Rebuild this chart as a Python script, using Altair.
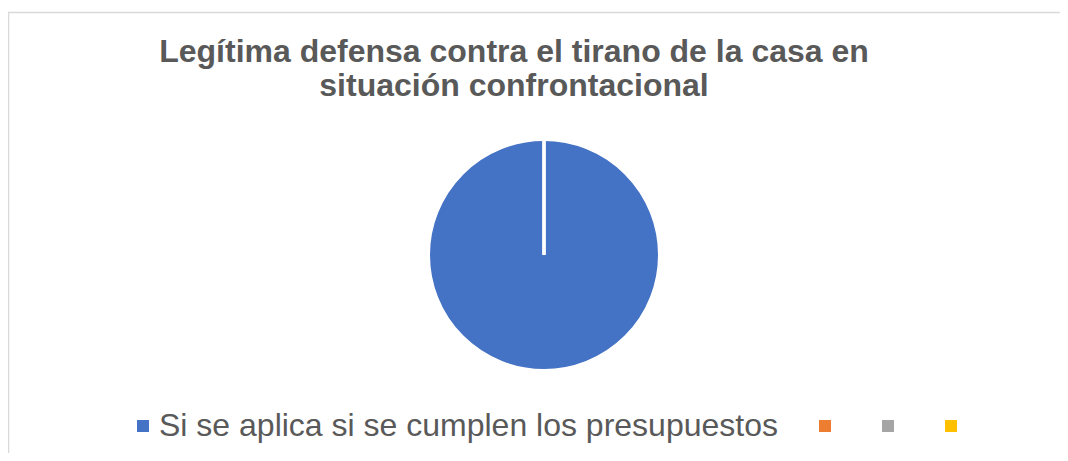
import altair as alt
import pandas as pd

categories = ["Si se aplica si se cumplen los presupuestos", "Serie 2", "Serie 3", "Serie 4"]
values = [100, 0, 0, 0]
colors = ["#4472C4", "#ED7D31", "#A5A5A5", "#FFC000"]
title_lines = ["Legítima defensa contra el tirano de la casa en", "situación confrontacional"]

W, H = 1052, 445

pie_df = pd.DataFrame({"cat": categories, "val": values, "order": list(range(len(categories)))})

pie = alt.Chart(pie_df).mark_arc(stroke="white", strokeWidth=3, outerRadius=115.5).encode(
    theta=alt.Theta("val:Q", stack=True),
    order=alt.Order("order:Q"),
    color=alt.Color(
        "cat:N",
        scale=alt.Scale(domain=categories, range=colors),
        legend=alt.Legend(
            title=None,
            orient="none",
            legendX=119,
            legendY=402,
            direction="horizontal",
            columns=4,
            columnPadding=31,
            symbolType="square",
            symbolSize=144,
            symbolStrokeWidth=0,
            labelFontSize=32,
            labelFont="Liberation Sans",
            labelColor="#595959",
            labelOffset=0,
            labelLimit=2000,
            padding=0,
            labelExpr="datum.index == 0 ? datum.label : ''",
        ),
    ),
    x=alt.value(536),
    y=alt.value(247),
)

title_df = pd.DataFrame({"t": title_lines, "yy": [54, 87.5]})
title = alt.Chart(title_df).mark_text(
    font="Liberation Sans", fontSize=32, fontWeight="bold", color="#595959",
    align="center", baseline="alphabetic"
).encode(
    text="t:N",
    x=alt.value(506),
    y=alt.Y("yy:Q", scale=alt.Scale(domain=[0, H], range=[0, H]), axis=None),
)

frame_top = alt.Chart(pd.DataFrame({"a": [0]})).mark_rule(color="#d9d9d9", strokeWidth=1.5).encode(
    x=alt.value(0), x2=alt.value(W + 20), y=alt.value(4.5)
)
frame_left = alt.Chart(pd.DataFrame({"a": [0]})).mark_rule(color="#d9d9d9", strokeWidth=1.5).encode(
    x=alt.value(0.5), y=alt.value(4.5), y2=alt.value(H + 20)
)

chart = alt.layer(frame_top, frame_left, pie, title).properties(
    width=W, height=H, autosize=alt.AutoSizeParams(type="none"), padding=0
).configure_view(stroke=None).resolve_scale(y="independent")

chart.save("out.html", embed_options={"renderer": "svg", "actions": False})
